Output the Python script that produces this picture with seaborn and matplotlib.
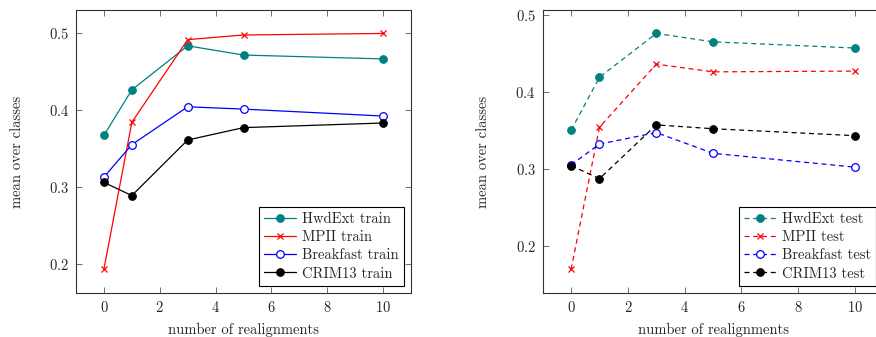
import pandas as pd
import seaborn as sns
import matplotlib.pyplot as plt

# realignment steps and the four datasets
realignments = [0, 1, 3, 5, 10]
datasets = ['HwdExt', 'MPII', 'Breakfast', 'CRIM13']

# mean over classes, train split
hwdext_train = [0.367, 0.426, 0.483, 0.471, 0.466]
mpii_train = [0.194, 0.384, 0.491, 0.497, 0.499]
breakfast_train = [0.313, 0.355, 0.404, 0.401, 0.392]
crim13_train = [0.306, 0.289, 0.361, 0.377, 0.383]

# mean over classes, test split
hwdext_test = [0.350, 0.419, 0.476, 0.465, 0.457]
mpii_test = [0.169, 0.354, 0.436, 0.426, 0.427]
breakfast_test = [0.305, 0.332, 0.347, 0.320, 0.302]
crim13_test = [0.304, 0.287, 0.357, 0.352, 0.343]


def set_plotting_style():
    """LaTeX / pgfplots like look."""
    sns.set_theme(style="ticks")
    plt.rcParams['font.family'] = ['cmr10', 'DejaVu Serif']
    plt.rcParams['mathtext.fontset'] = 'cm'
    plt.rcParams['axes.formatter.use_mathtext'] = True
    plt.rcParams['axes.unicode_minus'] = False
    plt.rcParams['font.size'] = 10.5


STYLES = {
    'HwdExt': dict(color='#008080', marker='o', markersize=5.5),
    'MPII': dict(color='red', marker='x', markersize=4, markeredgewidth=0.9),
    'Breakfast': dict(color='blue', marker='o', markersize=5.5,
                      markerfacecolor='white', markeredgewidth=0.9),
    'CRIM13': dict(color='black', marker='o', markersize=5.5),
}


def draw_panel(ax, series, split, dashed):
    for name in datasets:
        df = pd.DataFrame({'x': realignments, 'y': series[name]})
        kw = dict(STYLES[name])
        if dashed:
            kw['linestyle'] = (0, (4, 3))
        sns.lineplot(data=df, x='x', y='y', ax=ax, label=f'{name} {split}',
                     linewidth=0.9, markeredgecolor=kw['color'], **kw)
    ax.set_xlim(-1, 11)
    ax.set_xticks([0, 2, 4, 6, 8, 10])
    ax.set_yticks([0.2, 0.3, 0.4, 0.5])
    ax.set_xlabel('number of realignments', fontsize=10.5, labelpad=6)
    ax.set_ylabel('mean over classes', fontsize=10.5, labelpad=18)
    ax.tick_params(direction='in', top=True, right=True, length=4,
                   width=0.6, color='#555555', labelsize=10.5, pad=5)
    for sp in ax.spines.values():
        sp.set_linewidth(0.8)
        sp.set_color('#333333')
    leg = ax.legend(loc='lower right', fancybox=False, framealpha=1,
                    edgecolor='black', fontsize=10.5, handlelength=2.2,
                    borderpad=0.35, labelspacing=0.3, handletextpad=0.4,
                    borderaxespad=0.5)
    leg.get_frame().set_linewidth(0.8)


set_plotting_style()
fig = plt.figure(figsize=(8.76, 3.37), dpi=100)
ax1 = fig.add_axes([0.0868, 0.1306, 0.3824, 0.8398])
ax2 = fig.add_axes([0.6195, 0.1306, 0.389, 0.8398])

train = dict(zip(datasets, [hwdext_train, mpii_train, breakfast_train, crim13_train]))
test = dict(zip(datasets, [hwdext_test, mpii_test, breakfast_test, crim13_test]))

draw_panel(ax1, train, 'train', dashed=False)
ax1.set_ylim(0.1628, 0.5294)
draw_panel(ax2, test, 'test', dashed=True)
ax2.set_ylim(0.1383, 0.5065)

fig.savefig('out.png', dpi=100)
plt.close()
